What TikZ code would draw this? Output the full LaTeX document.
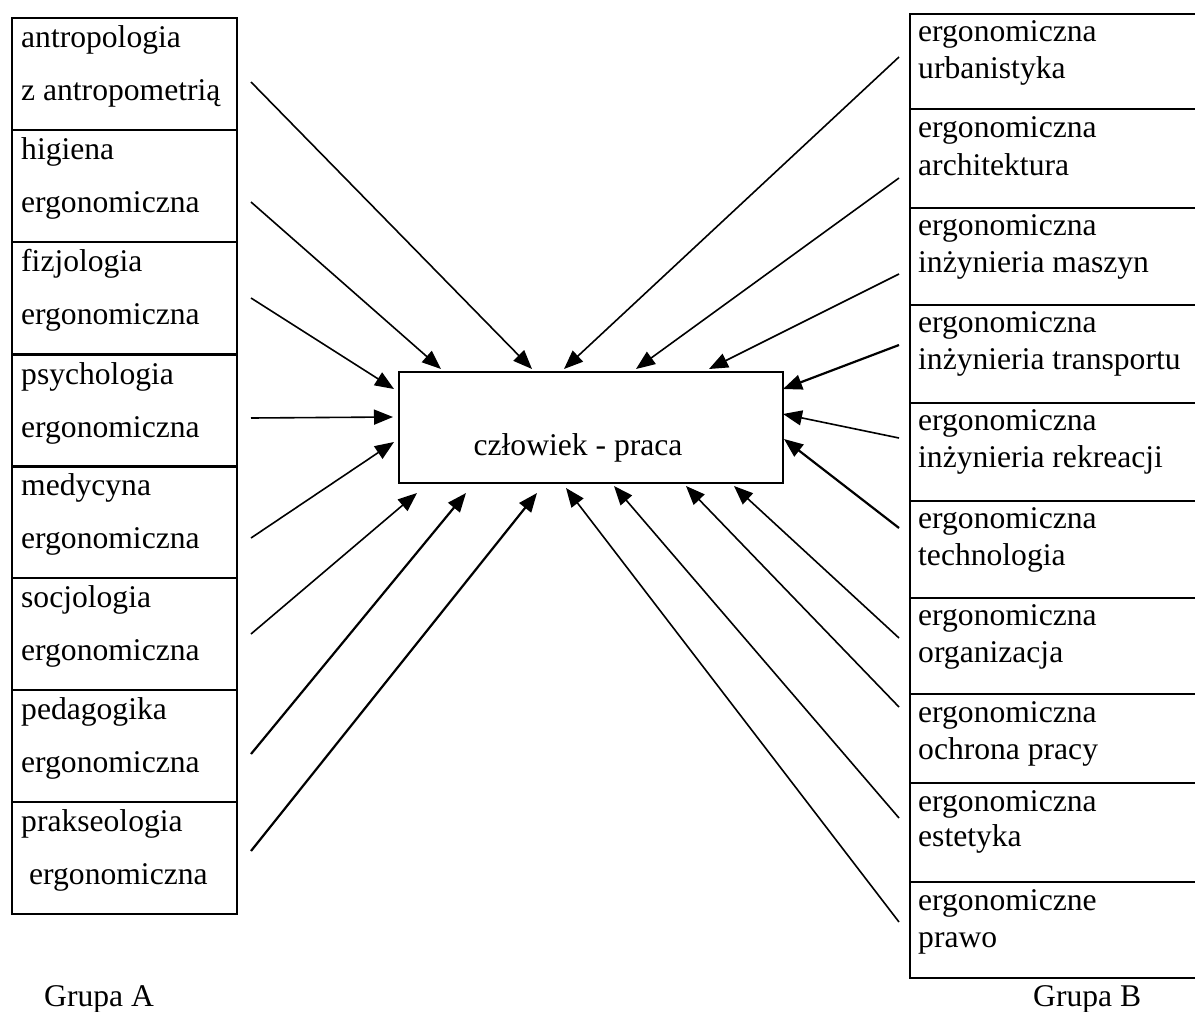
\documentclass[tikz,border=0pt]{standalone}
\usepackage{fontspec}
\setmainfont{Liberation Serif}
\usetikzlibrary{arrows.meta,calc}
\tikzset{
  boxA/.style={draw, line width=2pt, minimum width=225pt, minimum height=112pt, inner sep=0pt, anchor=north west},
  boxB/.style={draw, line width=2pt, minimum width=300pt, inner sep=0pt, anchor=north west},
  mainbox/.style={draw, line width=2pt, minimum width=384pt, minimum height=111pt, inner sep=0pt},
  lbl/.style={inner sep=0pt, anchor=base west, font=\fontsize{31.6pt}{36pt}\selectfont},
  arr/.style={line width=1.6pt, -{Triangle[length=19pt,width=15pt]}},
  arrb/.style={line width=2.2pt, -{Triangle[length=19pt,width=15pt]}}
}
\begin{document}
\begin{tikzpicture}[x=1pt,y=-1pt]
\useasboundingbox (0,0) rectangle (1195,1012);
\clip (0,0) rectangle (1195,1012);
% left column
\node[boxA] (a1) at (11,17) {};
\node[boxA] (a2) at (11,129) {};
\node[boxA] (a3) at (11,241) {};
\node[boxA] (a4) at (11,354) {};
\node[boxA] (a5) at (11,465) {};
\node[boxA] (a6) at (11,577) {};
\node[boxA] (a7) at (11,689) {};
\node[boxA] (a8) at (11,801) {};
\node[lbl] (ta1a) at ($(a1.north west)+(10,30)$) {antropologia};
\node[lbl] (ta1b) at ($(a1.north west)+(10,83)$) {z antropometrią};
\node[lbl] (ta2a) at ($(a2.north west)+(10,30)$) {higiena};
\node[lbl] (ta2b) at ($(a2.north west)+(10,83)$) {ergonomiczna};
\node[lbl] (ta3a) at ($(a3.north west)+(10,30)$) {fizjologia};
\node[lbl] (ta3b) at ($(a3.north west)+(10,83)$) {ergonomiczna};
\node[lbl] (ta4a) at ($(a4.north west)+(10,30)$) {psychologia};
\node[lbl] (ta4b) at ($(a4.north west)+(10,83)$) {ergonomiczna};
\node[lbl] (ta5a) at ($(a5.north west)+(10,30)$) {medycyna};
\node[lbl] (ta5b) at ($(a5.north west)+(10,83)$) {ergonomiczna};
\node[lbl] (ta6a) at ($(a6.north west)+(10,30)$) {socjologia};
\node[lbl] (ta6b) at ($(a6.north west)+(10,83)$) {ergonomiczna};
\node[lbl] (ta7a) at ($(a7.north west)+(10,30)$) {pedagogika};
\node[lbl] (ta7b) at ($(a7.north west)+(10,83)$) {ergonomiczna};
\node[lbl] (ta8a) at ($(a8.north west)+(10,30)$) {prakseologia};
\node[lbl] (ta8b) at ($(a8.north west)+(18,83)$) {ergonomiczna};
% right column
\node[boxB, minimum height=95pt] (b1) at (909,13) {};
\node[boxB, minimum height=99pt] (b2) at (909,108) {};
\node[boxB, minimum height=97pt] (b3) at (909,207) {};
\node[boxB, minimum height=98pt] (b4) at (909,304) {};
\node[boxB, minimum height=98pt] (b5) at (909,402) {};
\node[boxB, minimum height=97pt] (b6) at (909,500) {};
\node[boxB, minimum height=96pt] (b7) at (909,597) {};
\node[boxB, minimum height=89pt] (b8) at (909,693) {};
\node[boxB, minimum height=99pt] (b9) at (909,782) {};
\node[boxB, minimum height=96pt] (b10) at (909,881) {};
\node[lbl] (tb1a) at ($(b1.north west)+(9,28)$) {ergonomiczna};
\node[lbl] (tb1b) at ($(b1.north west)+(9,65)$) {urbanistyka};
\node[lbl] (tb2a) at ($(b2.north west)+(9,29)$) {ergonomiczna};
\node[lbl] (tb2b) at ($(b2.north west)+(9,67)$) {architektura};
\node[lbl] (tb3a) at ($(b3.north west)+(9,28)$) {ergonomiczna};
\node[lbl] (tb3b) at ($(b3.north west)+(9,65)$) {inżynieria maszyn};
\node[lbl] (tb4a) at ($(b4.north west)+(9,28)$) {ergonomiczna};
\node[lbl] (tb4b) at ($(b4.north west)+(9,65)$) {inżynieria transportu};
\node[lbl] (tb5a) at ($(b5.north west)+(9,28)$) {ergonomiczna};
\node[lbl] (tb5b) at ($(b5.north west)+(9,65)$) {inżynieria rekreacji};
\node[lbl] (tb6a) at ($(b6.north west)+(9,28)$) {ergonomiczna};
\node[lbl] (tb6b) at ($(b6.north west)+(9,65)$) {technologia};
\node[lbl] (tb7a) at ($(b7.north west)+(9,28)$) {ergonomiczna};
\node[lbl] (tb7b) at ($(b7.north west)+(9,65)$) {organizacja};
\node[lbl] (tb8a) at ($(b8.north west)+(9,29)$) {ergonomiczna};
\node[lbl] (tb8b) at ($(b8.north west)+(9,66)$) {ochrona pracy};
\node[lbl] (tb9a) at ($(b9.north west)+(9,29)$) {ergonomiczna};
\node[lbl] (tb9b) at ($(b9.north west)+(9,64)$) {estetyka};
\node[lbl] (tb10a) at ($(b10.north west)+(9,29)$) {ergonomiczne};
\node[lbl] (tb10b) at ($(b10.north west)+(9,66)$) {prawo};
% centre
\node[mainbox] (c) at (591,427.5) {};
\node[lbl, anchor=base] (ct) at (578,455) {człowiek - praca};
% group labels
\node[lbl] (ga) at (44,1006) {Grupa A};
\node[lbl] (gb) at (1033,1006) {Grupa B};
% arrow start points
\coordinate (sa1) at (251,82);
\coordinate (sa2) at (251,202);
\coordinate (sa3) at (251,298);
\coordinate (sa4) at (251,418);
\coordinate (sa5) at (251,538);
\coordinate (sa6) at (251,634);
\coordinate (sa7) at (251,754);
\coordinate (sa8) at (251,851);
\coordinate (sb1) at (899,57);
\coordinate (sb2) at (899,178);
\coordinate (sb3) at (899,274);
\coordinate (sb4) at (899,345);
\coordinate (sb5) at (899,438);
\coordinate (sb6) at (899,528);
\coordinate (sb7) at (899,638);
\coordinate (sb8) at (899,707);
\coordinate (sb9) at (899,818);
\coordinate (sb10) at (899,922);
% left arrows (tips relative to centre box)
\draw[arr] (sa1) -- ($(c.north west)+(134,-2)$);
\draw[arr] (sa2) -- ($(c.north west)+(43,-2)$);
\draw[arr] (sa3) -- ($(c.north west)+(-4,18)$);
\draw[arr] (sa4) -- ($(c.north west)+(-5,46)$);
\draw[arr] (sa5) -- ($(c.north west)+(-4,71)$);
\draw[arr] (sa6) -- ($(c.south west)+(19,9)$);
\draw[arrb] (sa7) -- ($(c.south west)+(68,9)$);
\draw[arrb] (sa8) -- ($(c.south west)+(139,9)$);
% right arrows
\draw[arr] (sb1) -- ($(c.north west)+(166,-2)$);
\draw[arr] (sb2) -- ($(c.north west)+(238,-2)$);
\draw[arr] (sb3) -- ($(c.north west)+(311,-2)$);
\draw[arrb] (sb4) -- ($(c.north east)+(-1,18)$);
\draw[arr] (sb5) -- ($(c.north east)+(-1,43)$);
\draw[arrb] (sb6) -- ($(c.north east)+(0,68)$);
\draw[arr] (sb7) -- ($(c.south east)+(-50,2)$);
\draw[arr] (sb8) -- ($(c.south east)+(-98,2)$);
\draw[arr] (sb9) -- ($(c.south east)+(-170,2)$);
\draw[arr] (sb10) -- ($(c.south east)+(-218,4)$);
\end{tikzpicture}
\end{document}
